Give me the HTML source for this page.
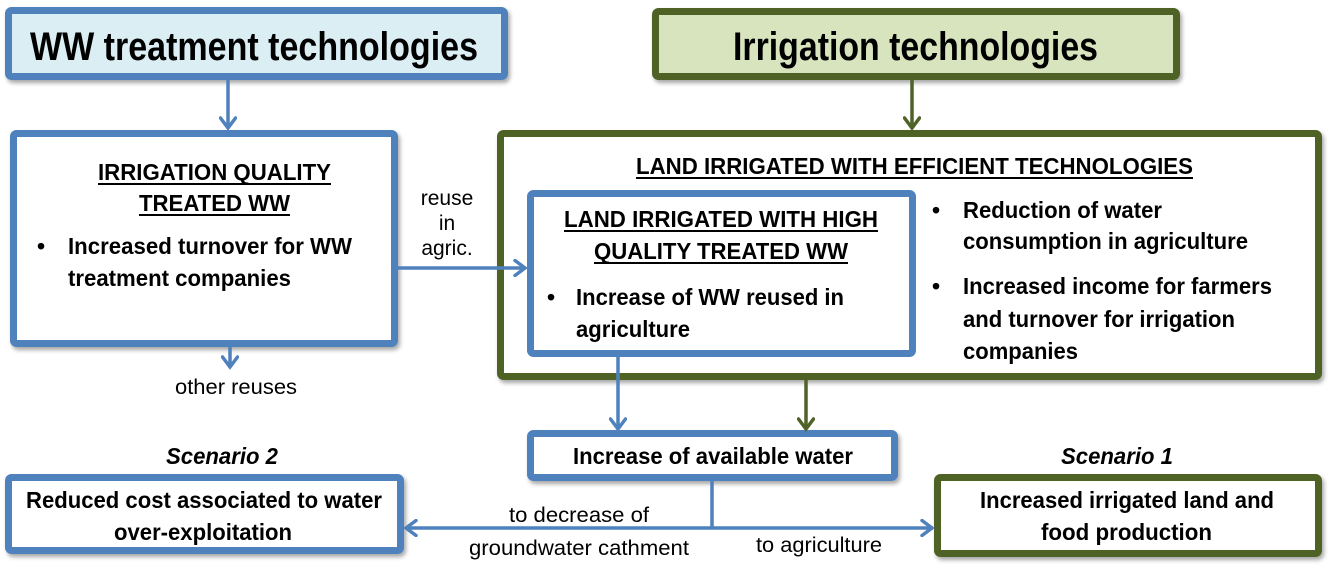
<!DOCTYPE html>
<html><head><meta charset="utf-8"><style>
html,body{margin:0;padding:0;background:#fff;width:1333px;height:579px;overflow:hidden}
svg{display:block}
text{font-family:"Liberation Sans",Arial,sans-serif;fill:#000}
.b{font-weight:bold;font-size:23px}
.n{font-size:21px}
</style></head><body>
<svg width="1333" height="579" viewBox="0 0 1333 579" xmlns="http://www.w3.org/2000/svg">
<defs>
<filter id="sh" x="-5%" y="-5%" width="110%" height="115%"><feDropShadow dx="2" dy="3" stdDeviation="2" flood-color="#000" flood-opacity="0.35"/></filter>
<marker id="ab" markerWidth="16" markerHeight="18" refX="12" refY="9" orient="auto" markerUnits="userSpaceOnUse"><path d="M2,1.5 L12,9 L2,16.5" fill="none" stroke="#4f81bd" stroke-width="3.5" stroke-linecap="round"/></marker>
<marker id="ag" markerWidth="16" markerHeight="18" refX="12" refY="9" orient="auto" markerUnits="userSpaceOnUse"><path d="M2,1.5 L12,9 L2,16.5" fill="none" stroke="#4f6228" stroke-width="3.5" stroke-linecap="round"/></marker>
</defs>
<g stroke-width="7" filter="url(#sh)">
<rect x="8.5" y="10.5" width="496" height="66" rx="3" fill="#dbeef4" stroke="#4f81bd"/>
<rect x="655.5" y="11.5" width="521" height="65" rx="3" fill="#d7e4bd" stroke="#4f6228"/>
<rect x="13.5" y="133.5" width="381" height="210" rx="3" fill="#fff" stroke="#4f81bd"/>
<rect x="500.5" y="133.5" width="818" height="243" rx="3" fill="#fff" stroke="#4f6228"/>
<rect x="530.5" y="193.5" width="382" height="160" rx="3" fill="#fff" stroke="#4f81bd"/>
<rect x="530.5" y="433.5" width="364" height="44" rx="3" fill="#fff" stroke="#4f81bd"/>
<rect x="8.5" y="477.5" width="392" height="73" rx="3" fill="#fff" stroke="#4f81bd"/>
<rect x="937.5" y="477.5" width="381" height="76" rx="3" fill="#fff" stroke="#4f6228"/>
</g>
<g fill="none" stroke-width="3.5">
<line x1="228" y1="80" x2="228" y2="128" stroke="#4f81bd" marker-end="url(#ab)"/>
<line x1="912" y1="80" x2="912" y2="128" stroke="#4f6228" marker-end="url(#ag)"/>
<line x1="398" y1="268" x2="525" y2="268" stroke="#4f81bd" marker-end="url(#ab)"/>
<line x1="230" y1="347" x2="230" y2="367" stroke="#4f81bd" marker-end="url(#ab)"/>
<line x1="618" y1="357" x2="618" y2="429" stroke="#4f81bd" marker-end="url(#ab)"/>
<line x1="806" y1="380" x2="806" y2="429" stroke="#4f6228" marker-end="url(#ag)"/>
<line x1="712" y1="481" x2="712" y2="528" stroke="#4f81bd"/>
<line x1="712" y1="528" x2="406" y2="528" stroke="#4f81bd" marker-end="url(#ab)"/>
<line x1="712" y1="528" x2="932" y2="528" stroke="#4f81bd" marker-end="url(#ab)"/>
</g>
<text x="30" y="60" style="font-size:40px;font-weight:bold" textLength="448" lengthAdjust="spacingAndGlyphs">WW treatment technologies</text>
<text x="733" y="60" style="font-size:40px;font-weight:bold" textLength="365" lengthAdjust="spacingAndGlyphs">Irrigation technologies</text>

<text class="b" x="98" y="180" textLength="233" lengthAdjust="spacingAndGlyphs">IRRIGATION QUALITY</text>
<rect x="98" y="183" width="233" height="2"/>
<text class="b" x="139" y="211" textLength="151" lengthAdjust="spacingAndGlyphs">TREATED WW</text>
<rect x="139" y="214" width="151" height="2"/>
<text class="b" x="37" y="254">•</text>
<text class="b" x="68" y="254" textLength="284" lengthAdjust="spacingAndGlyphs">Increased turnover for WW</text>
<text class="b" x="68" y="286" textLength="223" lengthAdjust="spacingAndGlyphs">treatment companies</text>

<text class="b" x="636" y="174" textLength="557" lengthAdjust="spacingAndGlyphs">LAND IRRIGATED WITH EFFICIENT TECHNOLOGIES</text>
<rect x="636" y="177" width="557" height="2"/>
<text class="b" x="564" y="227" textLength="314" lengthAdjust="spacingAndGlyphs">LAND IRRIGATED WITH HIGH</text>
<rect x="564" y="230" width="314" height="2"/>
<text class="b" x="594" y="259" textLength="254" lengthAdjust="spacingAndGlyphs">QUALITY TREATED WW</text>
<rect x="594" y="262" width="254" height="2"/>
<text class="b" x="547" y="305">•</text>
<text class="b" x="576" y="305" textLength="268" lengthAdjust="spacingAndGlyphs">Increase of WW reused in</text>
<text class="b" x="576" y="337" textLength="114" lengthAdjust="spacingAndGlyphs">agriculture</text>

<text class="b" x="932" y="218">•</text>
<text class="b" x="963" y="218" textLength="199" lengthAdjust="spacingAndGlyphs">Reduction of water</text>
<text class="b" x="963" y="249" textLength="285" lengthAdjust="spacingAndGlyphs">consumption in agriculture</text>
<text class="b" x="932" y="294">•</text>
<text class="b" x="963" y="294" textLength="309" lengthAdjust="spacingAndGlyphs">Increased income for farmers</text>
<text class="b" x="963" y="327" textLength="272" lengthAdjust="spacingAndGlyphs">and turnover for irrigation</text>
<text class="b" x="963" y="359" textLength="115" lengthAdjust="spacingAndGlyphs">companies</text>

<text class="n" x="447" y="205" text-anchor="middle">reuse</text>
<text class="n" x="447" y="230" text-anchor="middle">in</text>
<text class="n" x="447" y="255" text-anchor="middle">agric.</text>
<text class="n" x="175" y="394" textLength="122" lengthAdjust="spacingAndGlyphs">other reuses</text>

<text class="b" x="573" y="464" textLength="280" lengthAdjust="spacingAndGlyphs">Increase of available water</text>
<text class="b" x="166" y="464" font-style="italic" textLength="112" lengthAdjust="spacingAndGlyphs">Scenario 2</text>
<text class="b" x="1061" y="464" font-style="italic" textLength="112" lengthAdjust="spacingAndGlyphs">Scenario 1</text>
<text class="b" x="26" y="508" textLength="356" lengthAdjust="spacingAndGlyphs">Reduced cost associated to water</text>
<text class="b" x="114" y="540" textLength="178" lengthAdjust="spacingAndGlyphs">over-exploitation</text>
<text class="b" x="980" y="508" textLength="294" lengthAdjust="spacingAndGlyphs">Increased irrigated land and</text>
<text class="b" x="1041" y="540" textLength="171" lengthAdjust="spacingAndGlyphs">food production</text>

<text class="n" x="509" y="522" textLength="140" lengthAdjust="spacingAndGlyphs">to decrease of</text>
<text class="n" x="469" y="555" textLength="220" lengthAdjust="spacingAndGlyphs">groundwater cathment</text>
<text class="n" x="756" y="552" textLength="126" lengthAdjust="spacingAndGlyphs">to agriculture</text>
</svg>
</body></html>
